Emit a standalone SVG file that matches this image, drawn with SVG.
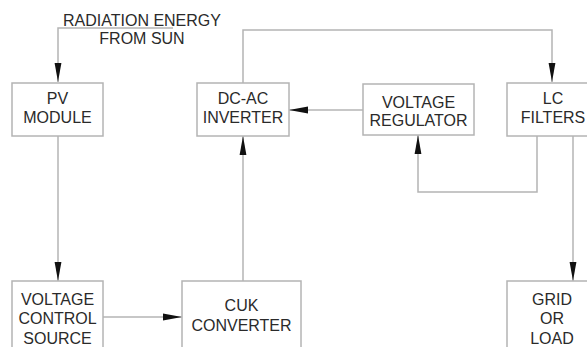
<svg xmlns="http://www.w3.org/2000/svg" width="587" height="347" viewBox="0 0 587 347">
<style>
.box{fill:#fff;stroke:#b4b4b4;stroke-width:1.5}
.t{font-family:"Liberation Sans",Arial,sans-serif;font-size:16px;fill:#2a2a2a;text-anchor:middle}
.c{fill:none;stroke:#b4b4b4;stroke-width:1.5}
</style>
<defs>
<marker id="ah" markerWidth="19" markerHeight="8" refX="19" refY="4" orient="auto" markerUnits="userSpaceOnUse">
<path d="M0,0.6 L19,4 L0,7.4 Z" fill="#111"/>
</marker>
</defs>
<rect width="587" height="347" fill="#fff"/>
<g id="connectors">
<polyline class="c" points="173,28 58,28 58,82" marker-end="url(#ah)"/>
<line class="c" x1="58" y1="136" x2="58" y2="281" marker-end="url(#ah)"/>
<line class="c" x1="103" y1="317" x2="182" y2="317" marker-end="url(#ah)"/>
<line class="c" x1="243" y1="281" x2="243" y2="136" marker-end="url(#ah)"/>
<polyline class="c" points="243,83 243,30 552,30 552,82" marker-end="url(#ah)"/>
<line class="c" x1="363" y1="110" x2="289" y2="110" marker-end="url(#ah)"/>
<polyline class="c" points="537,136 537,192 418,192 418,135" marker-end="url(#ah)"/>
<line class="c" x1="573" y1="136" x2="573" y2="281" marker-end="url(#ah)"/>
</g>
<g id="radiation">
<text class="t" x="142" y="26">RADIATION ENERGY</text>
<text class="t" x="142" y="44">FROM SUN</text>
</g>
<g id="pv">
<rect class="box" x="12" y="83" width="91" height="53"/>
<text class="t" x="57.5" y="104">PV</text>
<text class="t" x="57.5" y="123">MODULE</text>
</g>
<g id="inverter">
<rect class="box" x="197" y="83" width="92" height="53"/>
<text class="t" x="243" y="104">DC-AC</text>
<text class="t" x="243" y="123">INVERTER</text>
</g>
<g id="regulator">
<rect class="box" x="363" y="84" width="111" height="51"/>
<text class="t" x="418.5" y="108">VOLTAGE</text>
<text class="t" x="418.5" y="126">REGULATOR</text>
</g>
<g id="lc">
<rect class="box" x="507" y="83" width="92" height="53"/>
<text class="t" x="553" y="104">LC</text>
<text class="t" x="553" y="123">FILTERS</text>
</g>
<g id="vcs">
<rect class="box" x="12" y="281" width="91" height="80"/>
<text class="t" x="57.5" y="305">VOLTAGE</text>
<text class="t" x="57.5" y="324">CONTROL</text>
<text class="t" x="57.5" y="344">SOURCE</text>
</g>
<g id="cuk">
<rect class="box" x="182" y="281" width="119" height="80"/>
<text class="t" x="241.5" y="311">CUK</text>
<text class="t" x="241.5" y="331">CONVERTER</text>
</g>
<g id="grid">
<rect class="box" x="507" y="281" width="92" height="80"/>
<text class="t" x="552" y="305">GRID</text>
<text class="t" x="552" y="324">OR</text>
<text class="t" x="552" y="344">LOAD</text>
</g>
</svg>
